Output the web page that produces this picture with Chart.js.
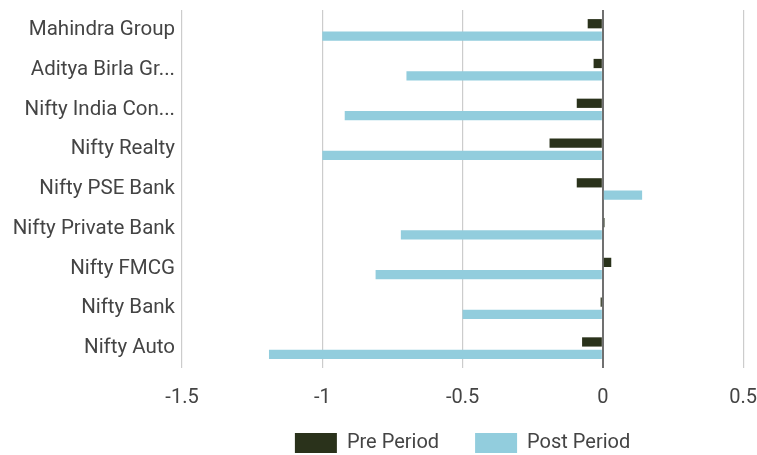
<!DOCTYPE html>
<html>
<head>
<meta charset="utf-8">
<script src="https://cdn.jsdelivr.net/npm/chart.js@4/dist/chart.umd.min.js"></script>
<style>
  html, body { margin: 0; padding: 0; background: #fff; }
  #wrap { width: 757px; height: 455px; position: relative; }
</style>
</head>
<body>
<div id="wrap"><canvas id="c"></canvas></div>
<script>
const categories = ["Mahindra Group", "Aditya Birla Gr...", "Nifty India Con...", "Nifty Realty", "Nifty PSE Bank", "Nifty Private Bank", "Nifty FMCG", "Nifty Bank", "Nifty Auto"];
const prePeriod  = [-0.054, -0.033, -0.093, -0.19, -0.093, 0.006, 0.03, -0.008, -0.074];
const postPeriod = [-1.0, -0.70, -0.92, -1.0, 0.14, -0.72, -0.81, -0.50, -1.19];
const xTicks = [-1.5, -1, -0.5, 0, 0.5];

const FONT = "Roboto, 'Liberation Sans', Arial, sans-serif";

// let the x tick labels draw below the compact axis box (avoids label clipping)
const extendXAxisBox = {
  id: 'extendXAxisBox',
  afterLayout(chart) {
    const x = chart.scales.x;
    x.bottom = x.top + 64;
  }
};

new Chart(document.getElementById('c'), {
  type: 'bar',
  data: {
    labels: categories,
    datasets: [
      { label: 'Pre Period', data: prePeriod, backgroundColor: '#2a321b', borderWidth: 0 },
      { label: 'Post Period', data: postPeriod, backgroundColor: '#92cddd', borderWidth: 0 }
    ]
  },
  plugins: [extendXAxisBox],
  options: {
    indexAxis: 'y',
    responsive: true,
    maintainAspectRatio: false,
    animation: false,
    layout: { padding: { top: 0, right: 0, left: 0, bottom: -8 } },
    datasets: { bar: { categoryPercentage: 0.62, barPercentage: 0.75 } },
    plugins: {
      legend: {
        position: 'bottom',
        fullSize: false,
        labels: {
          boxWidth: 42, boxHeight: 20, padding: 36,
          color: '#444', font: { family: FONT, size: 20 }
        }
      },
      tooltip: { enabled: false }
    },
    scales: {
      x: {
        min: -1.5, max: 0.5,
        afterBuildTicks: (axis) => { axis.ticks = xTicks.map(v => ({ value: v })); },
        afterFit: (axis) => { axis.height = 29; },
        ticks: {
          color: '#444', font: { family: FONT, size: 20, lineHeight: '60px' }, padding: 0,
          callback: (v) => String(v)
        },
        grid: {
          color: (ctx) => (ctx.tick && ctx.tick.value === 0) ? '#707070' : '#cccccc',
          lineWidth: (ctx) => (ctx.tick && ctx.tick.value === 0) ? 2 : 1.2,
          drawTicks: false
        },
        border: { display: false }
      },
      y: {
        afterFit: (axis) => { axis.width = 182; },
        ticks: { color: '#444', font: { family: FONT, size: 20.5, lineHeight: '6px' }, padding: 7 },
        grid: { display: false, drawTicks: false },
        border: { display: false }
      }
    }
  }
});
</script>
</body>
</html>
